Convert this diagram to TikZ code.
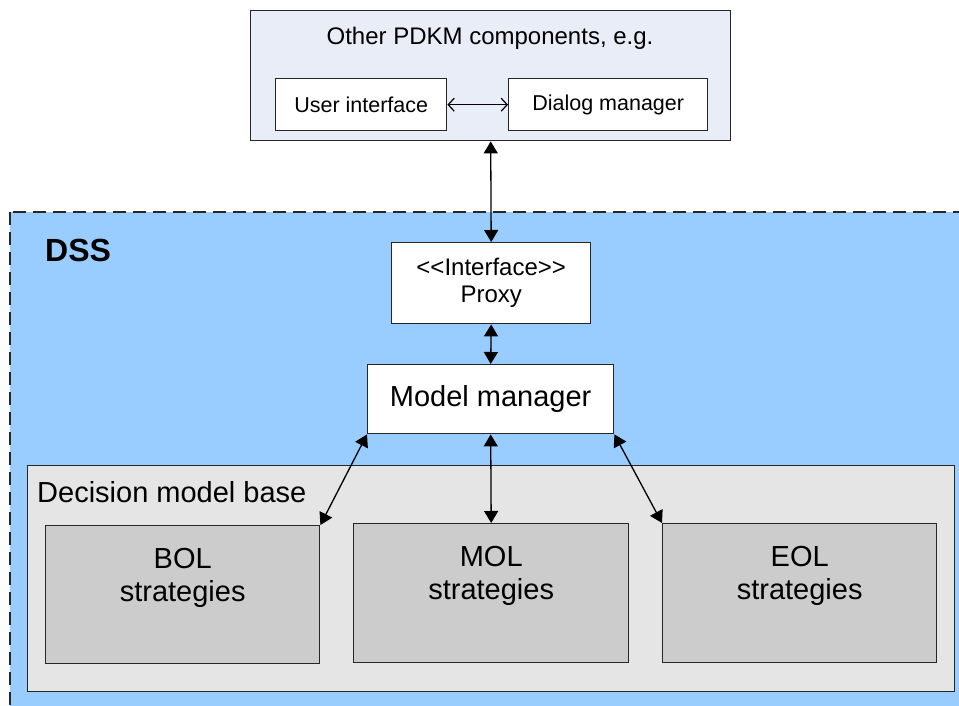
\documentclass[tikz,border=0pt]{standalone}
\usepackage{fontspec}
\setmainfont{Liberation Sans}
\usetikzlibrary{arrows.meta}
\definecolor{topfill}{HTML}{E9EDF7}
\definecolor{dssfill}{HTML}{99CCFF}
\definecolor{basefill}{HTML}{E5E5E5}
\definecolor{stratfill}{HTML}{CCCCCC}
\begin{document}
\begin{tikzpicture}[x=1pt,y=-1pt,
  box/.style={draw=black!85, line width=1.4pt, inner sep=0pt, anchor=north west},
  whitebox/.style={box, fill=white},
  stratbox/.style={box, fill=stratfill},
  smalltxt/.style={font=\fontsize{21.5}{26}\selectfont},
  midtxt/.style={font=\fontsize{24}{27}\selectfont, align=center},
  bigtxt/.style={font=\fontsize{29}{33}\selectfont, align=center},
  dblarrow/.style={line width=1.3pt, {Triangle[length=12pt,width=14pt]}-{Triangle[length=12pt,width=14pt]}},
  openarrow/.style={line width=1.2pt, {Straight Barb[length=6pt,width=13pt]}-{Straight Barb[length=6pt,width=13pt]}}
]
\clip (0,0) rectangle (959,706);
\fill[white] (0,0) rectangle (959,706);

% top box
\node[box, fill=topfill, minimum width=480pt, minimum height=130pt] (top) at (250,10) {};
\node[font=\fontsize{24}{28}\selectfont] (toptitle) at (490,38) {Other PDKM components, e.g.};
\node[whitebox, smalltxt, minimum width=171pt, minimum height=52pt] (ui) at (275,78) {User interface};
\node[whitebox, smalltxt, minimum width=199pt, minimum height=52pt] (dm) at (508,78) {Dialog manager};
\draw[openarrow] (ui.east) -- (dm.west);

% DSS
\draw[draw=black!85, fill=dssfill, line width=1.4pt, dash pattern=on 13pt off 7pt] (10,212) rectangle (975,725);
\node[font=\bfseries\fontsize{32}{38}\selectfont, anchor=west, inner sep=0pt] (dss) at (45,250) {DSS};

\node[whitebox, midtxt, minimum width=199pt, minimum height=81pt] (proxy) at (391,242) {<\kern0pt<Interface>\kern0pt>\\Proxy};
\node[whitebox, bigtxt, minimum width=246pt, minimum height=69pt] (mm) at (367,364) {Model manager};

% decision model base
\node[box, fill=basefill, minimum width=927pt, minimum height=226pt] (base) at (27,465) {};
\node[bigtxt, anchor=west, inner sep=0pt] (basetitle) at (37,492) {Decision model base};

\node[stratbox, minimum width=274pt, minimum height=138pt] (bol) at (45,525) {};
\node[stratbox, minimum width=275pt, minimum height=139pt] (mol) at (353,523) {};
\node[stratbox, minimum width=274pt, minimum height=139pt] (eol) at (662,523) {};
\node[bigtxt, anchor=north, inner sep=0pt] (boltxt) at ([yshift=-23pt]bol.north) {BOL\\strategies};
\node[bigtxt, anchor=north, inner sep=0pt] (moltxt) at ([yshift=-23pt]mol.north) {MOL\\strategies};
\node[bigtxt, anchor=north, inner sep=0pt] (eoltxt) at ([yshift=-23pt]eol.north) {EOL\\strategies};

% connectors
\draw[dblarrow] (top.south) -- (proxy.north);
\draw[dblarrow] (proxy.south) -- (mm.north);
\draw[dblarrow] (mm.south west) -- (bol.north east);
\draw[dblarrow] (mm.south) -- (mol.north);
\draw[dblarrow] (mm.south east) -- (eol.north west);
\end{tikzpicture}
\end{document}
